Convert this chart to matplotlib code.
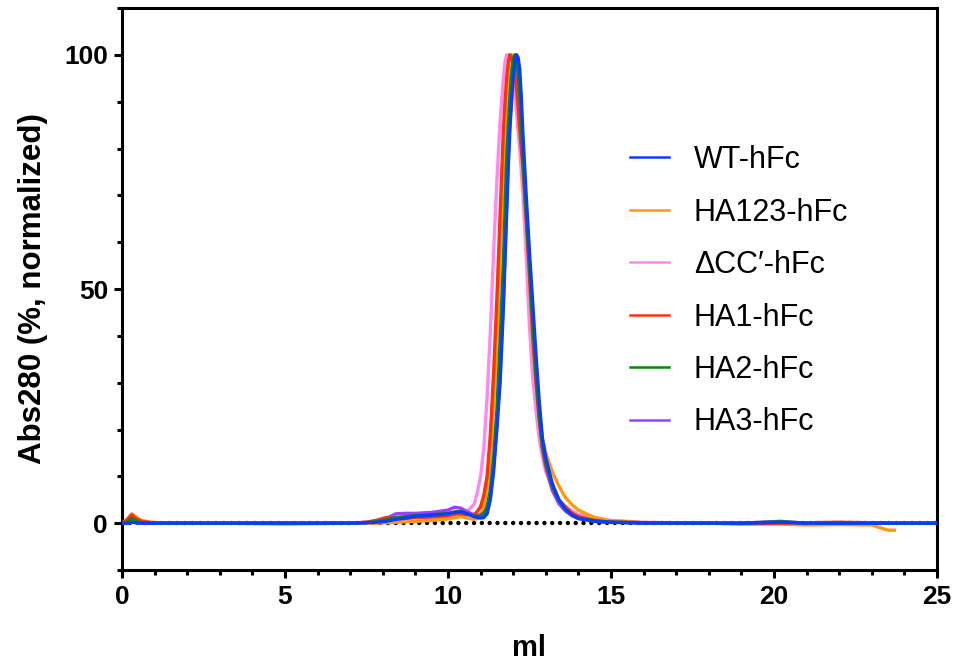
import numpy as np
import matplotlib
matplotlib.use('Agg')
import matplotlib.pyplot as plt
from matplotlib.ticker import MultipleLocator

plt.rcParams['font.family'] = ['Liberation Sans', 'DejaVu Sans']

# elution volume grid (ml)
ml = [0, 0.15, 0.3, 0.45, 0.6, 0.9, 1.5, 3, 5, 6, 7, 7.5, 7.8,
      8.1, 8.4, 8.7, 9.0, 9.5, 10.0, 10.2, 10.4, 10.6, 10.8, 10.9,
      11.0, 11.1, 11.2, 11.3, 11.4, 11.5, 11.6,
      11.7, 11.75, 11.8, 11.85, 11.9, 11.95, 12.0, 12.05, 12.1, 12.15,
      12.2, 12.25, 12.3,
      12.4, 12.5, 12.6, 12.7, 12.8, 12.9, 13.0,
      13.2, 13.4, 13.6, 13.8, 14.0, 14.5, 15, 16, 18, 19,
      20.2, 21, 22, 23, 23.5, 23.7, 25]

wt = [0, 0, 0.2, 0.1, 0, 0, 0, 0, 0, 0, 0, 0.1, 0.2,
      0.4, 0.8, 1.1, 1.5, 1.7, 2.0, 2.3, 2.4, 2.0, 1.4, 1.2,
      1.1, 1.2, 2.0, 5, 11, 20, 30,
      46, 56, 66, 76, 84, 90, 95, 98.5, 100, 99.5,
      97, 91, 83,
      70, 58, 47, 36, 26, 18, 14,
      8.5, 5, 3, 1.8, 1.0, 0.4, 0.2, 0, 0, 0,
      0.2, 0, 0, 0, 0, 0, 0]

ha123 = [0, 0.8, 2.0, 1.2, 0.6, 0.2, 0, 0, -0.2, -0.1, 0, 0, 0,
         0.1, 0.2, 0.3, 0.4, 0.6, 0.9, 1.2, 1.4, 1.1, 0.8, 1.0,
         1.8, 3.5, 7, 13, 25, 38, 57,
         75, 83, 89, 94.5, 98, 100, 99.5, 98, 95, 91,
         86, 81, 76,
         65, 52, 39, 30, 23, 18, 15,
         11, 8, 5.5, 4, 2.8, 1.2, 0.5, 0.1, 0, -0.2,
         -0.2, -0.4, -0.3, -0.4, -1.5, -1.5, np.nan]

dcc = [0, 0.1, 0.3, 0.1, 0, 0, 0, 0, 0, 0, 0, 0.1, 0.3,
       0.6, 1.0, 1.2, 1.4, 1.6, 1.9, 2.2, 2.6, 2.6, 4.0, 6.5,
       10, 16, 27, 41, 58, 73, 86,
       95, 98.5, 100, 100, 99, 97.5, 95, 92, 88, 84,
       80, 75, 70,
       57, 42, 31, 24, 18, 14, 11,
       7.5, 5, 3.6, 2.6, 1.9, 1.2, 0.6, 0.2, 0, 0,
       0, 0, 0, 0, 0, 0, 0]

ha1 = [0, 0.6, 1.8, 0.9, 0.4, 0.1, 0, 0, 0, 0, 0, 0.2, 0.6,
       1.2, 0.9, 1.0, 1.2, 1.3, 1.6, 1.9, 2.0, 1.8, 1.8, 2.5,
       3.5, 6, 10, 19, 32, 48, 66,
       84, 90, 95, 98.5, 100, 99.5, 98, 96, 93, 89,
       84, 80, 76,
       65, 53, 40, 30, 22, 16, 12.5,
       8, 5, 3.5, 2.2, 1.4, 0.6, 0.2, 0.1, 0, -0.1,
       0, 0.1, 0.2, 0.1, 0, 0, 0]

ha2 = [0, 0.2, 1.0, 0.4, 0.1, 0, 0, 0, 0, 0, 0, 0.1, 0.3,
       0.7, 1.2, 1.4, 1.6, 1.8, 2.1, 2.4, 2.5, 2.0, 1.5, 1.4,
       1.5, 2.0, 3.5, 7, 14, 24, 39,
       56, 67, 78, 85, 91, 96, 99, 100, 99, 96,
       92, 85, 78,
       66, 55, 43, 32, 23, 16.5, 13,
       8, 5, 3, 1.8, 1.1, 0.5, 0.2, 0.1, 0, 0,
       0.3, 0, 0, 0, 0, 0, 0]

ha3 = [0, 0, 0.2, 0.1, 0, 0, 0, 0, 0, 0, 0, 0.2, 0.5,
       1.0, 2.0, 2.1, 2.1, 2.3, 2.8, 3.4, 3.2, 2.4, 1.8, 1.7,
       1.8, 2.2, 3.2, 6, 12, 21, 32,
       48, 58, 68, 78, 86, 92, 96, 99, 100, 98.5,
       95, 88, 80,
       67, 55, 44, 33, 23, 16, 12,
       7, 4.2, 2.6, 1.6, 1.0, 0.4, 0.2, 0.1, 0, 0,
       0.4, 0, 0, 0, 0, 0, 0]

labels = ['WT-hFc', 'HA123-hFc', 'ΔCC′-hFc', 'HA1-hFc', 'HA2-hFc', 'HA3-hFc']
series = [wt, ha123, dcc, ha1, ha2, ha3]
colors = ['#0a3cff', '#ff9a10', '#ff88f0', '#ff3010', '#0a8a0a', '#9a40ff']
zorders = [8, 4, 3, 6, 7, 5]

fig = plt.figure(figsize=(9.59, 6.67), dpi=100)
ax = fig.add_axes([0.1272, 0.1454, 0.977 - 0.1272, 0.988 - 0.1454])

ax.axhline(0, color='black', lw=3.2, linestyle=(0, (0.01, 1.75)),
           dash_capstyle='round', zorder=2)

handles = []
for y, lab, c, z in zip(series, labels, colors, zorders):
    ax.plot(ml, y, color=c, lw=2.4, zorder=z, solid_joinstyle='round')
    h, = ax.plot([], [], color=c, lw=1.8, label=lab)
    handles.append(h)

ax.set_xlim(0, 25)
ax.set_ylim(-10, 110)
ax.xaxis.set_major_locator(MultipleLocator(5))
ax.xaxis.set_minor_locator(MultipleLocator(1))
ax.set_yticks([0, 50, 100])
ax.yaxis.set_minor_locator(MultipleLocator(10))

for s in ax.spines.values():
    s.set_linewidth(2.2)
ax.tick_params(which='major', length=6, width=2.2, labelsize=19, pad=5)
ax.tick_params(axis='y', which='major', pad=4)
ax.tick_params(which='minor', length=3.5, width=2.2)
for t in ax.get_xticklabels() + ax.get_yticklabels():
    t.set_fontweight('bold')

ax.set_xlabel('ml', fontsize=21, fontweight='bold', labelpad=18)
ax.set_ylabel('Abs280 (%, normalized)', fontsize=22.5, fontweight='bold',
              labelpad=12)

ax.legend(handles=handles, loc='upper left', bbox_to_anchor=(0.623, 0.756),
          frameon=False, fontsize=22, handlelength=1.3, handletextpad=0.8,
          labelspacing=0.735, borderaxespad=0, borderpad=0)

fig.savefig('out.png', dpi=100)
